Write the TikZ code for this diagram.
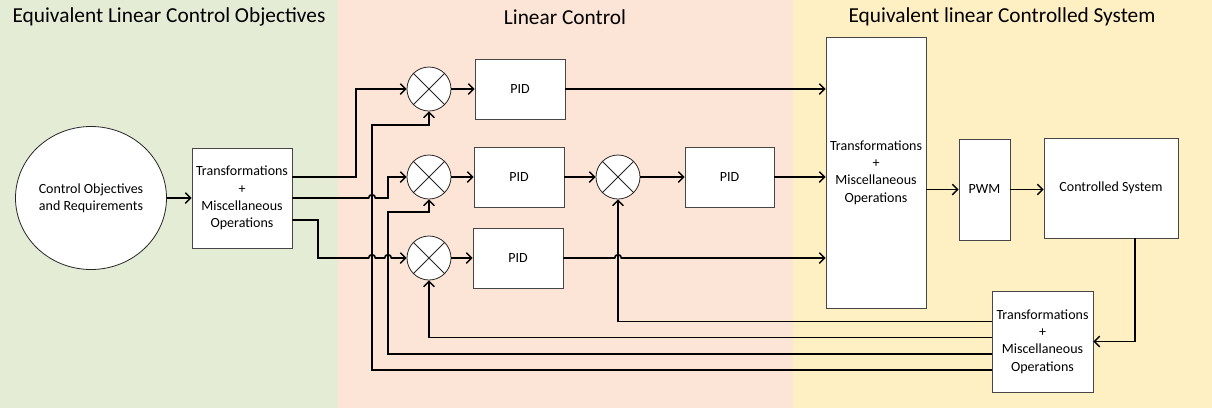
\documentclass[tikz,border=0pt]{standalone}
\usepackage{fontspec}
\setmainfont{Carlito}
\usetikzlibrary{arrows.meta,shapes.geometric,calc}
\definecolor{bandgreen}{RGB}{228,236,214}
\definecolor{bandpeach}{RGB}{252,228,214}
\definecolor{bandgold}{RGB}{255,240,196}
\definecolor{edge}{RGB}{70,70,70}
% one drawing unit
\newcommand\pxu{0.75pt}
% small bridge where a wire jumps over a crossing wire
\newcommand\hopat[1]{-- ($(#1)+(-2.5pt,0)$) arc[start angle=180,end angle=0,radius=2.5pt]}

\begin{document}
\begin{tikzpicture}[x=0.75pt,y=-0.75pt,
  box/.style={draw=edge,fill=white,line width=0.6pt,inner sep=0pt,align=center,
    font=\fontsize{10.5}{13}\selectfont},
  sumnode/.style={circle,draw=black!85,fill=white,line width=0.6pt,
    minimum size=44*\pxu,inner sep=0pt},
  wire/.style={line width=1.2pt},
  arr/.style={wire,-{Straight Barb[length=4pt,width=8pt,line width=1pt]}},
  bandtitle/.style={font=\fontsize{16}{19}\selectfont}]

% background bands
\fill[bandgreen] (0,0) rectangle (338,408);
\fill[bandpeach] (338,0) rectangle (793,408);
\fill[bandgold] (793,0) rectangle (1212,408);
\useasboundingbox (0,0) rectangle (1212,408);

\node[bandtitle] (t1) at (169,17) {Equivalent Linear Control Objectives};
\node[bandtitle] (t2) at (565,17) {Linear Control};
\node[bandtitle] (t3) at (1002,17) {Equivalent linear Controlled System};

% blocks
\node[box,ellipse,draw=black!85,minimum width=151*\pxu,minimum height=143*\pxu]
  (goal) at (91,198) {Control Objectives\\and Requirements};
\node[box,minimum width=100*\pxu,minimum height=100*\pxu] (tr1) at (242,198)
  {Transformations\\+\\Miscellaneous\\Operations};

\node[sumnode] (s1) at (429,89) {};
\node[sumnode] (s2) at (429,177) {};
\node[sumnode] (s3) at (429,258) {};
\node[sumnode] (s4) at (618,177) {};
\foreach \s in {s1,s2,s3,s4}
  \draw[line width=0.6pt,black!85] (\s.north east) -- (\s.south west)
    (\s.north west) -- (\s.south east);

\node[box,minimum width=90*\pxu,minimum height=60*\pxu] (pid1) at (520,89) {PID};
\node[box,minimum width=90*\pxu,minimum height=60*\pxu] (pid2) at (519,177) {PID};
\node[box,minimum width=90*\pxu,minimum height=60*\pxu] (pid3) at (518,258) {PID};
\node[box,minimum width=89*\pxu,minimum height=60*\pxu] (pid4) at (729.5,177) {PID};

\node[box,minimum width=100*\pxu,minimum height=271*\pxu] (tr2) at (876,172.5)
  {Transformations\\+\\Miscellaneous\\Operations};
\node[box,minimum width=51*\pxu,minimum height=101*\pxu] (pwm) at (984.5,189.5) {PWM};
\node[box,minimum width=134*\pxu,minimum height=100*\pxu] (plant) at (1111,188)
  {Controlled System};
\node[box,minimum width=101*\pxu,minimum height=101*\pxu] (tr3) at (1042.5,341.5)
  {Transformations\\+\\Miscellaneous\\Operations};

% routing points
\coordinate (j1) at (356,0);
\coordinate (j3) at (318,0);
\coordinate (c1) at (372,125);
\coordinate (c2) at (388,212);
\coordinate (o3) at ($(tr1.east)+(0,22)$);
\coordinate (f1) at ($(tr3.west)+(0,-20)$);
\coordinate (f2) at ($(tr3.west)+(0,-4)$);
\coordinate (f3) at ($(tr3.west)+(0,12.5)$);
\coordinate (f4) at ($(tr3.west)+(0,28.5)$);

% objectives to set points
\draw[arr] (goal.east) -- (tr1.west);
\draw[arr] (tr1.east |- s2) -- (j1 |- s2) |- (s1.west);
\draw[arr] (tr1.east) \hopat{c1 |- tr1.east} -- (c2 |- tr1.east) |- (s2.west);
\draw[arr] (o3) -- (j3 |- o3) -- (j3 |- s3) \hopat{c1 |- s3} \hopat{c2 |- s3} -- (s3.west);

% control loops
\draw[arr] (s1.east) -- (pid1.west);
\draw[arr] (s2.east) -- (pid2.west);
\draw[arr] (s3.east) -- (pid3.west);
\draw[arr] (pid2.east) -- (s4.west);
\draw[arr] (s4.east) -- (pid4.west);
\draw[arr] (pid1.east) -- (tr2.west |- pid1);
\draw[arr] (pid4.east) -- (tr2.west |- pid4);
\draw[arr] (pid3.east) \hopat{s4 |- pid3} -- (tr2.west |- pid3);

% plant chain
\draw[arr] (tr2.east |- pwm) -- (pwm.west);
\draw[arr] (pwm.east) -- (plant.west |- pwm);
\draw[arr] ([xshift=24*\pxu]plant.south) |- (tr3.east);

% feedback
\draw[arr] (f1) -| (s4.south);
\draw[arr] (f2) -| (s3.south);
\draw[arr] (f3) -| (c2) -| (s2.south);
\draw[arr] (f4) -| (c1) -| (s1.south);
\end{tikzpicture}
\end{document}
